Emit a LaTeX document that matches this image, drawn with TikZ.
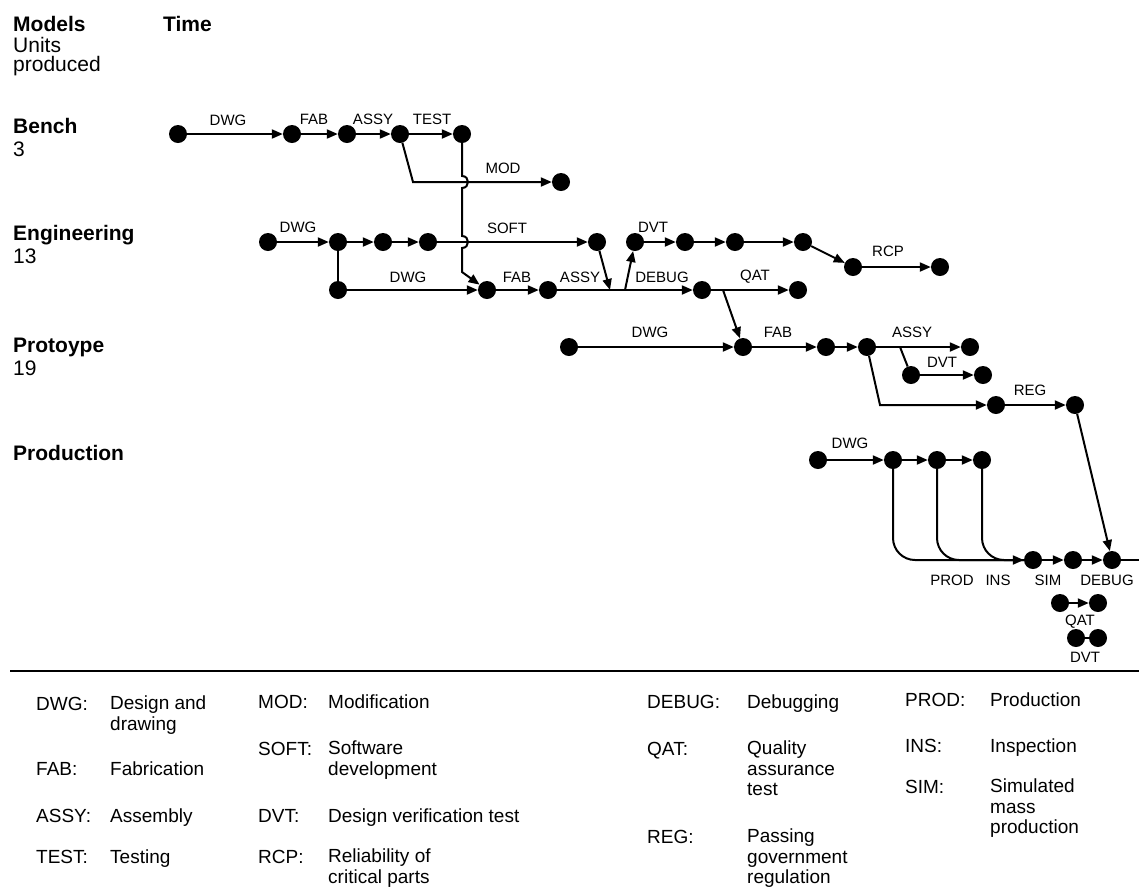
\documentclass[tikz,border=0pt]{standalone}
\usepackage{fontspec}
\setmainfont{Liberation Sans}
\usetikzlibrary{arrows.meta}
\begin{document}
\begin{tikzpicture}[x=1pt,y=-1pt,
  dot/.style={circle,fill=black,inner sep=0pt,minimum size=18pt},
  lbl/.style={font=\fontsize{15}{17}\selectfont,inner sep=0pt},
  head/.style={font=\fontsize{21}{19}\selectfont\bfseries,anchor=base west,inner sep=0pt},
  sub/.style={font=\fontsize{21}{19}\selectfont,anchor=base west,inner sep=0pt},
  subm/.style={font=\fontsize{21}{19}\selectfont,anchor=north west,inner sep=0pt,align=left},
  leg/.style={font=\fontsize{19}{20.5}\selectfont,anchor=base west,inner sep=0pt},
  legm/.style={font=\fontsize{19}{20.5}\selectfont,anchor=north west,inner sep=0pt,align=left},
  ln/.style={line width=2pt},
  arr/.style={line width=2pt,-{Triangle[length=11pt,width=9pt]}},
]
\useasboundingbox (0,0) rectangle (1139,887);

% headings
\node[head] (hmodels) at (13,31) {Models};
\node[subm] (hunits) at (13,37) {Units\\produced};
\node[head] (htime) at (163,31) {Time};
\node[head] (hbench) at (13,133) {Bench};
\node[sub] (nbench) at (13,156) {3};
\node[head] (heng) at (13,240) {Engineering};
\node[sub] (neng) at (13,263) {13};
\node[head] (hproto) at (13,352) {Protoype};
\node[sub] (nproto) at (13,375) {19};
\node[head] (hprod) at (13,460) {Production};

% Bench row
\node[dot] (b1) at (178,134) {};
\node[dot] (b2) at (292,134) {};
\node[dot] (b3) at (347,134) {};
\node[dot] (b4) at (400,134) {};
\node[dot] (b5) at (462,134) {};
\node[dot] (b6) at (561,182) {};
\draw[arr] (b1) -- (b2);
\draw[arr] (b2) -- (b3);
\draw[arr] (b3) -- (b4);
\draw[arr] (b4) -- (b5);
\draw[arr] (b4) -- (413,182) -- (b6);
\node[lbl] (lb1) at (228,120) {DWG};
\node[lbl] (lb2) at (314,119) {FAB};
\node[lbl] (lb3) at (373,119) {ASSY};
\node[lbl] (lb4) at (432,119) {TEST};
\node[lbl] (lb5) at (503,168) {MOD};

% Engineering rows
\node[dot] (e1) at (268,242) {};
\node[dot] (e2) at (338,242) {};
\node[dot] (e3) at (383,242) {};
\node[dot] (e4) at (428,242) {};
\node[dot] (e5) at (597,242) {};
\node[dot] (e6) at (635,242) {};
\node[dot] (e7) at (685,242) {};
\node[dot] (e8) at (735,242) {};
\node[dot] (e9) at (803,242) {};
\node[dot] (e10) at (853,267) {};
\node[dot] (e11) at (940,267) {};
\node[dot] (f1) at (338,290) {};
\node[dot] (f2) at (487,290) {};
\node[dot] (f3) at (548,290) {};
\node[dot] (f4) at (702,290) {};
\node[dot] (f5) at (798,290) {};
\draw[arr] (e1) -- (e2);
\draw[arr] (e2) -- (e3);
\draw[arr] (e3) -- (e4);
\draw[arr] (e4) -- (e5);
\draw[arr] (e6) -- (e7);
\draw[arr] (e7) -- (e8);
\draw[arr] (e8) -- (e9);
\draw[arr] (e9) -- (e10);
\draw[arr] (e10) -- (e11);
\draw[ln] (e2) -- (f1);
\draw[arr] (f1) -- (f2);
\draw[arr] (f2) -- (f3);
\draw[arr] (f3) -- (f4);
\draw[arr] (f4) -- (f5);
\draw[arr] (e5) -- (610,290);
\draw[arr] (625,290) -- (e6);
% TEST output with hops over MOD and SOFT lines
\draw[arr] (b5) -- (462,176) .. controls (470,176) and (470,188) .. (462,188)
  -- (462,236) .. controls (470,236) and (470,248) .. (462,248)
  -- (462,272) -- (f2);
\node[lbl] (le1) at (298,227) {DWG};
\node[lbl] (le2) at (507,228) {SOFT};
\node[lbl] (le3) at (653,227) {DVT};
\node[lbl] (le4) at (888,251) {RCP};
\node[lbl] (lf1) at (408,277) {DWG};
\node[lbl] (lf2) at (517,277) {FAB};
\node[lbl] (lf3) at (580,277) {ASSY};
\node[lbl] (lf4) at (662,277) {DEBUG};
\node[lbl] (lf5) at (755,277) {QAT};

% Prototype row
\node[dot] (p1) at (569,347) {};
\node[dot] (p2) at (743,347) {};
\node[dot] (p3) at (826,347) {};
\node[dot] (p4) at (867,347) {};
\node[dot] (p5) at (970,347) {};
\node[dot] (p6) at (911,375) {};
\node[dot] (p7) at (983,375) {};
\node[dot] (p8) at (996,405) {};
\node[dot] (p9) at (1075,405) {};
\draw[arr] (723,290) -- (p2);
\draw[arr] (p1) -- (p2);
\draw[arr] (p2) -- (p3);
\draw[arr] (p3) -- (p4);
\draw[arr] (p4) -- (p5);
\draw[ln] (900,347) -- (p6);
\draw[arr] (p6) -- (p7);
\draw[arr] (p4) -- (880,405) -- (p8);
\draw[arr] (p8) -- (p9);
\node[lbl] (lp1) at (650,332) {DWG};
\node[lbl] (lp2) at (778,332) {FAB};
\node[lbl] (lp3) at (912,332) {ASSY};
\node[lbl] (lp4) at (942,362) {DVT};
\node[lbl] (lp5) at (1030,390) {REG};

% Production
\node[dot] (q1) at (818,460) {};
\node[dot] (q2) at (893,460) {};
\node[dot] (q3) at (937,460) {};
\node[dot] (q4) at (982,460) {};
\node[dot] (d1) at (1033,560) {};
\node[dot] (d2) at (1073,560) {};
\node[dot] (d3) at (1112,560) {};
\coordinate (dend) at (1139,560);
\draw[arr] (q1) -- (q2);
\draw[arr] (q2) -- (q3);
\draw[arr] (q3) -- (q4);
\draw[ln,rounded corners=22pt] (q3) |- (d1);
\draw[ln,rounded corners=22pt] (q4) |- (d1);
\draw[arr,rounded corners=22pt] (q2) |- (d1);
\draw[arr] (d1) -- (d2);
\draw[arr] (d2) -- (d3);
\draw[ln] (d3) -- (dend);
\draw[arr] (p9) -- (d3);
\node[lbl] (lq1) at (850,443) {DWG};
\node[lbl] (lq2) at (952,580) {PROD};
\node[lbl] (lq3) at (998,580) {INS};
\node[lbl] (lq4) at (1048,580) {SIM};
\node[lbl] (lq5) at (1107,580) {DEBUG};
\node[dot] (g1) at (1060,603) {};
\node[dot] (g2) at (1098,603) {};
\draw[arr] (g1) -- (g2);
\node[lbl] (lg) at (1080,622) {QAT};
\node[dot] (h1) at (1076,638) {};
\node[dot] (h2) at (1098,638) {};
\draw[ln] (h1) -- (h2);
\node[lbl] (lh) at (1085,657) {DVT};

% separator
\coordinate (sepl) at (10,671);
\coordinate (sepr) at (1139,671);
\draw[line width=2.5pt] (sepl) -- (sepr);

% legend
\node[leg] (a1) at (36,710) {DWG:};
\node[legm] (t1) at (110,696) {Design and\\drawing};
\node[leg] (a2) at (36,775) {FAB:};
\node[leg] (t2) at (110,775) {Fabrication};
\node[leg] (a3) at (36,822) {ASSY:};
\node[leg] (t3) at (110,822) {Assembly};
\node[leg] (a4) at (36,863) {TEST:};
\node[leg] (t4) at (110,863) {Testing};

\node[leg] (a5) at (258,708) {MOD:};
\node[leg] (t5) at (328,708) {Modification};
\node[leg] (a6) at (258,755) {SOFT:};
\node[legm] (t6) at (328,741) {Software\\development};
\node[leg] (a7) at (258,822) {DVT:};
\node[leg] (t7) at (328,822) {Design verification test};
\node[leg] (a8) at (258,863) {RCP:};
\node[legm] (t8) at (328,849) {Reliability of\\critical parts};

\node[leg] (a9) at (647,708) {DEBUG:};
\node[leg] (t9) at (747,708) {Debugging};
\node[leg] (a10) at (647,755) {QAT:};
\node[legm] (t10) at (747,741) {Quality\\assurance\\test};
\node[leg] (a11) at (647,843) {REG:};
\node[legm] (t11) at (747,829) {Passing\\government\\regulation};

\node[leg] (a12) at (905,706) {PROD:};
\node[leg] (t12) at (990,706) {Production};
\node[leg] (a13) at (905,752) {INS:};
\node[leg] (t13) at (990,752) {Inspection};
\node[leg] (a14) at (905,793) {SIM:};
\node[legm] (t14) at (990,779) {Simulated\\mass\\production};
\end{tikzpicture}
\end{document}
